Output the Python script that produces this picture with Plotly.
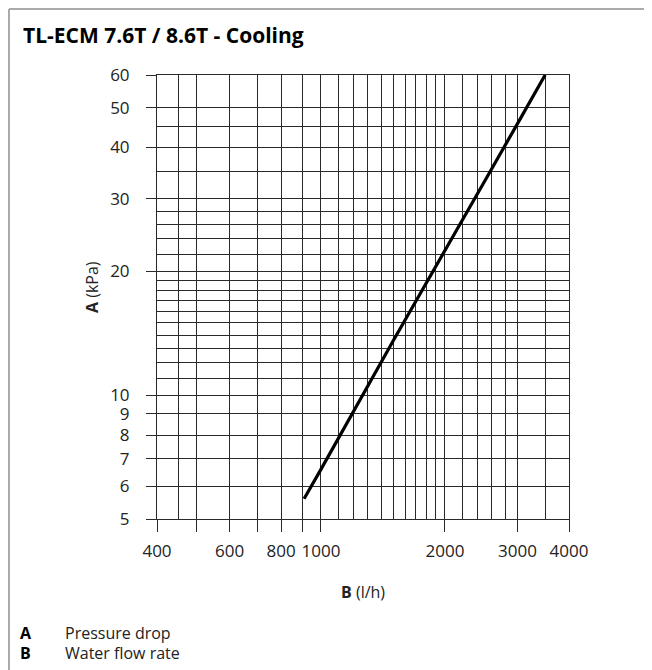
import plotly.graph_objects as go

# ---- data ----
flow_lh = [910, 1000, 1500, 2000, 2500, 3000, 3500]
pressure_kpa = [5.6, 6.6, 13.6, 22.4, 33.2, 45.7, 60.0]

x_major = [400, 500, 600, 700, 800, 900, 1000, 2000, 3000, 4000]
x_major_text = ["400", "", "600", "", "800", "", "1000", "2000", "3000", "4000"]
x_minor = [450, 1100, 1200, 1300, 1400, 1500, 1600, 1700, 1800, 1900,
           2200, 2400, 2600, 2800, 3500]

y_major = [5, 6, 7, 8, 9, 10, 20, 30, 40, 50, 60]
y_major_text = ["5", "6", "7", "8", "9", "10", "20", "30", "40", "50", "60"]
y_minor = [11, 12, 13, 14, 15, 16, 17, 18, 19, 22, 24, 26, 28, 35, 45]

title_text = "TL-ECM 7.6T / 8.6T - Cooling"
x_title = "<b>B</b> (l/h)"
y_title = "<b>A</b> (kPa)"
legend_keys = ["A", "B"]
legend_desc = ["Pressure drop", "Water flow rate"]

# ---- layout geometry (window pixels; page body adds an 8px offset) ----
OFF = 8
W, H = 652 - OFF, 670 - OFF
ML, MR, MT, MB = 157 - OFF, 83, 75 - OFF, 151
PW, PH = W - ML - MR, H - MT - MB

def px(x):
    return (x - OFF - ML) / PW

def py(y):
    return 1 - (y - OFF - MT) / PH

FONT = "Open Sans"
INK = "#222222"
GRID = "#2a2a2a"

fig = go.Figure()
fig.add_trace(go.Scatter(
    x=flow_lh, y=pressure_kpa, mode="lines",
    line=dict(color="black", width=3.2), showlegend=False, hoverinfo="skip"))

axis_common = dict(
    type="log", showgrid=True, gridcolor=GRID, gridwidth=1,
    showline=True, linecolor=GRID, linewidth=1, mirror=True,
    ticks="outside", tickcolor=GRID, tickwidth=1,
    tickfont=dict(family=FONT, size=17, color=INK),
    zeroline=False, tickmode="array",
)

fig.update_xaxes(
    **axis_common,
    range=[2.60206, 3.60206],
    tickvals=x_major, ticktext=x_major_text, ticklen=12,
    ticklabelstandoff=5,
    minor=dict(tickmode="array", tickvals=x_minor, showgrid=True,
               gridcolor=GRID, gridwidth=1, ticks=""),
)
fig.update_yaxes(
    **axis_common,
    range=[0.69897, 1.778151],
    tickvals=y_major, ticktext=y_major_text, ticklen=10,
    ticklabelstandoff=13,
    minor=dict(tickmode="array", tickvals=y_minor, showgrid=True,
               gridcolor=GRID, gridwidth=1, ticks=""),
)

annotations = [
    dict(text="<b>" + title_text + "</b>", x=px(21), y=py(35),
         xanchor="left", yanchor="middle",
         font=dict(family=FONT, size=21, color="black")),
    dict(text=x_title, x=px(363), y=py(592), xanchor="center", yanchor="middle",
         font=dict(family=FONT, size=16, color=INK)),
    dict(text=y_title, x=px(92), y=py(287), xanchor="center", yanchor="middle",
         textangle=-90, font=dict(family=FONT, size=16, color=INK)),
]
for i, (k, d) in enumerate(zip(legend_keys, legend_desc)):
    yy = 633 + 20 * i
    annotations.append(dict(text="<b>" + k + "</b>", x=px(18), y=py(yy),
                            xanchor="left", yanchor="middle",
                            font=dict(family=FONT, size=16, color="black")))
    annotations.append(dict(text=d, x=px(63), y=py(yy),
                            xanchor="left", yanchor="middle",
                            font=dict(family=FONT, size=16, color=INK)))
for a in annotations:
    a.update(xref="paper", yref="paper", showarrow=False)

shapes = [
    dict(type="line", xref="paper", yref="paper",
         x0=px(9), x1=px(660), y0=py(9), y1=py(9),
         line=dict(color="#aaaaaa", width=2)),
    dict(type="line", xref="paper", yref="paper",
         x0=px(9), x1=px(9), y0=py(9), y1=py(680),
         line=dict(color="#aaaaaa", width=2)),
]

fig.update_layout(
    width=W, height=H, autosize=False,
    margin=dict(l=ML, r=MR, t=MT, b=MB, pad=0),
    paper_bgcolor="white", plot_bgcolor="white",
    annotations=annotations, shapes=shapes, showlegend=False,
)

fig.write_html("out.html", config={"displayModeBar": False})
